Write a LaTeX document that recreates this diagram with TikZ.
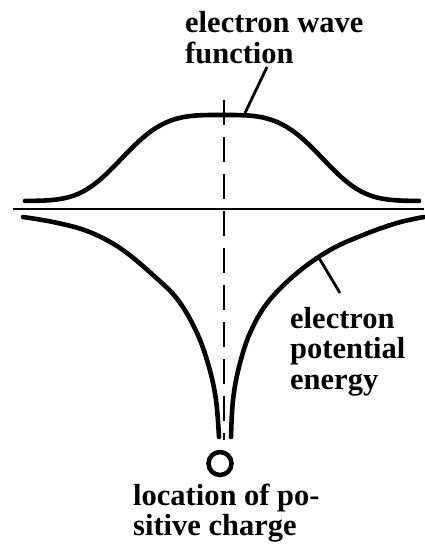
\documentclass[tikz,border=0pt]{standalone}
\usepackage{fontspec}
\setmainfont{Liberation Serif}
\begin{document}
\begin{tikzpicture}[x=1pt,y=-1pt,
  curve/.style={line width=4.6pt, line cap=round},
  axisline/.style={line width=2.2pt},
  centerline/.style={line width=2.4pt, dash pattern=on 25pt off 12pt},
  leader/.style={line width=2.8pt},
  lbl/.style={font=\bfseries\fontsize{30.5}{30}\selectfont, inner sep=0pt, anchor=base west}]
\useasboundingbox (0,0) rectangle (424,544);
% axis
\coordinate (axL) at (13,209);
\coordinate (axR) at (424,209);
\draw[axisline] (axL) -- (axR);
% dashed centre line
\coordinate (cTop) at (224,100);
\coordinate (cBot) at (224,440);
\draw[centerline] (cTop) -- (cBot);
% wave function
\draw[curve] plot[domain=25:419, samples=160]
  (\x, {201-86*exp(-0.693*pow(abs(\x-222.13)/100+0.0001,3.5))});
% potential energy, left branch
\draw[curve] plot[smooth, tension=0.6] coordinates
  {(23,217) (53,222) (87,231) (120,248) (153,275) (178,300) (197,333) (209,367) (216,400) (219,437)};
% potential energy, right branch
\draw[curve] plot[smooth, tension=0.6] coordinates
  {(424,217) (397,223) (363,235) (330,250) (297,273) (268,302) (250,333) (239,367) (233,400) (231,437)};
% positive charge
\node[circle, draw, line width=4.5pt, minimum size=23pt, inner sep=0pt] (charge) at (220,463.5) {};
% labels
\node[lbl] (w1) at (185,32) {electron wave};
\node[lbl] (w2) at (185,63) {function};
\node[lbl] (p1) at (290,328) {electron};
\node[lbl] (p2) at (290,358.5) {potential};
\node[lbl] (p3) at (290,389) {energy};
\node[lbl] (c1) at (133,505) {location of po-};
\node[lbl] (c2) at (133,535) {sitive charge};
% leaders
\coordinate (wA) at (267,67);
\coordinate (wB) at (245,113);
\draw[leader] (wA) -- (wB);
\coordinate (pA) at (319,258);
\coordinate (pB) at (340,293);
\draw[leader] (pA) -- (pB);
\end{tikzpicture}
\end{document}
